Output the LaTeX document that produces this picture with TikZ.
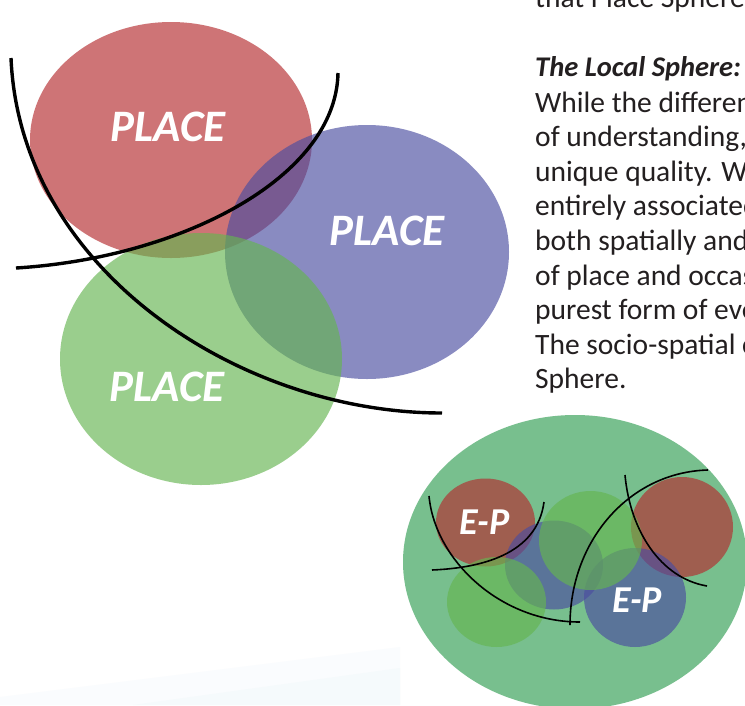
\documentclass[tikz,border=0pt]{standalone}
\usepackage{fontspec}
\setmainfont{Carlito}
\definecolor{pred}{RGB}{180,43,46}
\definecolor{pblue}{RGB}{75,77,160}
\definecolor{pgreen}{RGB}{101,181,80}
\definecolor{bigg}{RGB}{120,191,142}
\definecolor{inkc}{RGB}{35,31,32}
\definecolor{faintA}{RGB}{250,252,254}
\definecolor{faintB}{RGB}{245,250,252}
\tikzset{
  blob/.style={fill opacity=0.65},
  bigarc/.style={draw=black, line width=3.4pt},
  smallarc/.style={draw=black, line width=1.6pt},
  placetxt/.style={text=white, font=\fontsize{45}{50}\selectfont\bfseries\itshape, inner sep=0pt},
  eptxt/.style={text=white, font=\fontsize{38}{42}\selectfont\bfseries\itshape, inner sep=0pt},
  bodytxt/.style={text=inkc, anchor=base west, inner sep=0pt, font=\fontsize{29.5}{34.6}\selectfont}
}
\begin{document}
\begin{tikzpicture}[x=1pt,y=-1pt]
\useasboundingbox (0,0) rectangle (745,705);
\clip (0,0) rectangle (745,705);
\fill[white] (0,0) rectangle (745,705);
% faint background bands
\fill[faintA] (0,697) -- (400,647) -- (400,705) -- (0,705) -- cycle;
\fill[faintB] (133,705) -- (400,668) -- (400,705) -- cycle;

% ---- top-left diagram ----
\fill[pred,blob] (171,140) ellipse [x radius=141pt, y radius=118pt];
\fill[pblue,blob] (367,252) ellipse [x radius=142pt, y radius=127pt];
\fill[pgreen,blob] (201,359) ellipse [x radius=141pt, y radius=126pt];
\coordinate (a1s) at (11,58);
\coordinate (a1e) at (442,413);
\coordinate (a2s) at (16,268);
\coordinate (a2e) at (338,73);
\draw[bigarc] (a1s) .. controls (20,270) and (240,413) .. (a1e);
\draw[bigarc] (a2s) .. controls (180,258) and (336,178) .. (a2e);
\node[placetxt] (p1) at (168,127) {PLACE};
\node[placetxt] (p2) at (387,231) {PLACE};
\node[placetxt] (p3) at (167,387) {PLACE};

% ---- bottom-right diagram ----
\fill[bigg] (575,562) ellipse [x radius=172pt, y radius=147pt];
\fill[pred,blob] (485.5,522.5) ellipse [x radius=49.5pt, y radius=44pt];
\fill[pred,blob] (682,527) ellipse [x radius=51pt, y radius=50pt];
\fill[pblue,blob] (554,565) ellipse [x radius=49pt, y radius=44.5pt];
\fill[pblue,blob] (635,597.5) ellipse [x radius=51pt, y radius=49.5pt];
\fill[pgreen,blob] (496.5,602) ellipse [x radius=49.5pt, y radius=45pt];
\fill[pgreen,blob] (590.5,540.5) ellipse [x radius=51.5pt, y radius=49.5pt];
\coordinate (sa0) at (429,496);
\coordinate (sa1) at (580,622);
\coordinate (sb0) at (432,570);
\coordinate (sb1) at (544,502);
\coordinate (sc0) at (570,625);
\coordinate (sc1) at (708,470);
\coordinate (sd0) at (625,475);
\coordinate (sd1) at (707,586);
\draw[smallarc] (sa0) .. controls (435,560) and (500,622) .. (sa1);
\draw[smallarc] (sb0) .. controls (480,568) and (537,555) .. (sb1);
\draw[smallarc] (sc0) .. controls (570,540) and (630,472) .. (sc1);
\draw[smallarc] (sd0) .. controls (630,530) and (660,578) .. (sd1);
\node[eptxt] (ep1) at (484.5,522.5) {E-P};
\node[eptxt] (ep2) at (637,600.5) {E-P};

% ---- text column ----
\node[bodytxt] (l0) at (535,7) {that Place Sphere.};
\node[bodytxt, font=\fontsize{28.5}{34.6}\selectfont\bfseries\itshape] (l1) at (535,76) {The Local Sphere:};
\node[bodytxt] (l2) at (535,112) {While the differen};
\node[bodytxt] (l3) at (535,146.6) {of understanding,};
\node[bodytxt] (l4) at (535,181.2) {unique quality. Wh};
\node[bodytxt] (l5) at (535,215.8) {entirely associated};
\node[bodytxt] (l6) at (535,250.4) {both spatially and};
\node[bodytxt] (l7) at (535,285) {of place and occas};
\node[bodytxt] (l8) at (535,319.6) {purest form of eve};
\node[bodytxt] (l9) at (535,354.2) {The socio-spatial c};
\node[bodytxt] (l10) at (535,388.8) {Sphere.};
\end{tikzpicture}
\end{document}
